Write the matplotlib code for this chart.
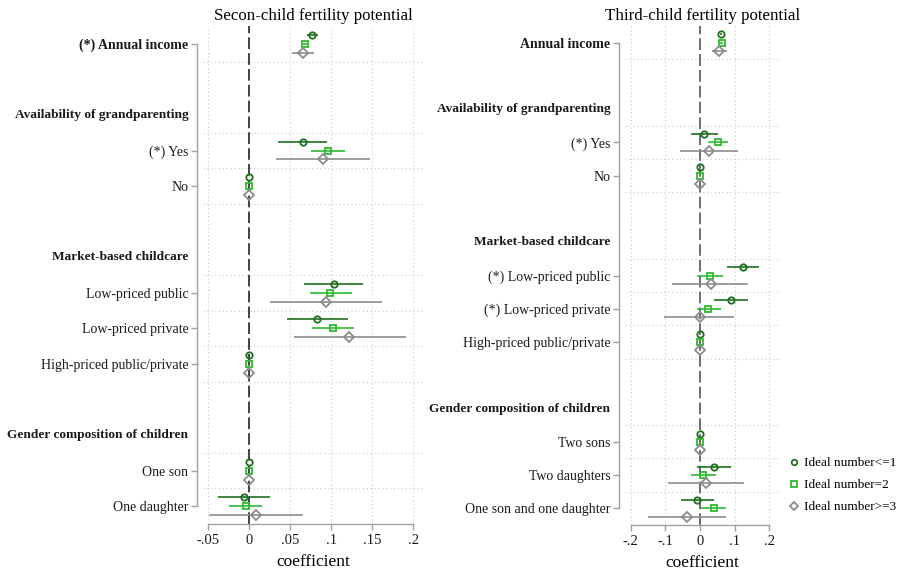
import matplotlib
matplotlib.use("Agg")
import matplotlib.pyplot as plt
from matplotlib.lines import Line2D
import matplotlib.transforms as mtransforms

plt.rcParams['font.family'] = ['Liberation Serif', 'DejaVu Serif']

# ---------------- data ----------------
series_names = ["Ideal number<=1", "Ideal number=2", "Ideal number>=3"]

# Left panel: second-child fertility potential
left_title = "Secon-child fertility potential"
left_rows = ["(*) Annual income", "", "Availability of grandparenting", "(*) Yes", "No", "",
             "Market-based childcare", "Low-priced public", "Low-priced private",
             "High-priced public/private", "", "Gender composition of children",
             "One son", "One daughter"]
left_headings = ["Availability of grandparenting", "Market-based childcare",
                 "Gender composition of children"]
left_bold = ["(*) Annual income"]
left_coef_labels = ["(*) Annual income", "(*) Yes", "No", "Low-priced public",
                    "Low-priced private", "High-priced public/private", "One son", "One daughter"]
left_le1 = [0.077, 0.065, 0, 0.103, 0.083, 0, 0, -0.006]
left_le1_lo = [0.070, 0.035, 0, 0.067, 0.046, 0, 0, -0.038]
left_le1_hi = [0.084, 0.095, 0, 0.139, 0.120, 0, 0, 0.025]
left_eq2 = [0.068, 0.096, 0, 0.099, 0.102, 0, 0, -0.004]
left_eq2_lo = [0.066, 0.075, 0, 0.074, 0.077, 0, 0, -0.025]
left_eq2_hi = [0.070, 0.117, 0, 0.125, 0.128, 0, 0, 0.016]
left_ge3 = [0.065, 0.090, 0, 0.0935, 0.122, 0, 0, 0.008]
left_ge3_lo = [0.052, 0.033, 0, 0.025, 0.054, 0, 0, -0.049]
left_ge3_hi = [0.079, 0.147, 0, 0.162, 0.191, 0, 0, 0.065]
left_xticks = [-0.05, 0, 0.05, 0.1, 0.15, 0.2]
left_xticklabels = ["-.05", "0", ".05", ".1", ".15", ".2"]

# Right panel: third-child fertility potential
right_title = "Third-child fertility potential"
right_rows = ["Annual income", "", "Availability of grandparenting", "(*) Yes", "No", "",
              "Market-based childcare", "(*) Low-priced public", "(*) Low-priced private",
              "High-priced public/private", "", "Gender composition of children",
              "Two sons", "Two daughters", "One son and one daughter"]
right_headings = ["Availability of grandparenting", "Market-based childcare",
                  "Gender composition of children"]
right_bold = ["Annual income"]
right_coef_labels = ["Annual income", "(*) Yes", "No", "(*) Low-priced public",
                     "(*) Low-priced private", "High-priced public/private", "Two sons",
                     "Two daughters", "One son and one daughter"]
right_le1 = [0.061, 0.0125, 0, 0.123, 0.090, 0, 0, 0.040, -0.008]
right_le1_lo = [0.057, -0.027, 0, 0.079, 0.041, 0, 0, -0.008, -0.056]
right_le1_hi = [0.065, 0.053, 0, 0.171, 0.138, 0, 0, 0.090, 0.041]
right_eq2 = [0.063, 0.053, 0, 0.029, 0.024, 0, 0, 0.010, 0.039]
right_eq2_lo = [0.059, 0.024, 0, -0.008, -0.010, 0, 0, -0.027, 0.003]
right_eq2_hi = [0.067, 0.082, 0, 0.066, 0.060, 0, 0, 0.045, 0.074]
right_ge3 = [0.056, 0.026, 0, 0.031, 0.0, 0, 0, 0.017, -0.038]
right_ge3_lo = [0.034, -0.058, 0, -0.080, -0.103, 0, 0, -0.092, -0.151]
right_ge3_hi = [0.077, 0.111, 0, 0.140, 0.099, 0, 0, 0.128, 0.075]
right_xticks = [-0.2, -0.1, 0, 0.1, 0.2]
right_xticklabels = ["-.2", "-.1", "0", ".1", ".2"]

# ---------------- style ----------------
colors = ["#1f6f1f", "#2fba2f", "#8c8c8c"]
markers = ["o", "s", "D"]
msizes = [4.6, 4.8, 4.6]
offsets = [-0.25, 0.0, 0.25]
axis_gray = "#a0a0a0"
grid_gray = "#c8c8c8"

fig = plt.figure(figsize=(9, 5.73), dpi=100)
W, H = 900, 573


def px_axes(l, r, t, b):
    return fig.add_axes([l / W, 1 - b / H, (r - l) / W, (b - t) / H])


def draw_panel(ax, title, rows, headings, bold, coef_labels, data, xticks, xticklabels,
               xlim, zero_color):
    n = len(rows)
    coef_pos = [rows.index(lab) for lab in coef_labels]

    # spines first (repositioning a spine resets ticks)
    for s in ['top', 'right']:
        ax.spines[s].set_visible(False)
    ax.spines['left'].set_position(('outward', 4))
    for s in ['left', 'bottom']:
        ax.spines[s].set_color(axis_gray)
        ax.spines[s].set_linewidth(1.0)

    ax.set_ylim(n - 0.5, -0.5)
    ax.set_xlim(*xlim)

    # horizontal dotted grid lines around coefficient rows
    glines = set()
    for p in coef_pos:
        glines.add(p - 0.5)
        glines.add(p + 0.5)
    for g in sorted(glines):
        if -0.5 < g < n - 0.5:
            ax.axhline(g, color=grid_gray, lw=0.8, ls=(0, (1, 2.5)), zorder=0)
    for xt in xticks:
        if xt != 0:
            ax.axvline(xt, color=grid_gray, lw=0.8, ls=(0, (1, 2.5)), zorder=0)
    ax.axvline(0, color=zero_color, lw=1.2, ls=(0, (7, 2.5)), zorder=1)

    for k, (est, lo, hi) in enumerate(data):
        ys = [p + offsets[k] for p in coef_pos]
        xerr = [[e - l for e, l in zip(est, lo)], [h - e for e, h in zip(est, hi)]]
        ax.errorbar(est, ys, xerr=xerr, fmt=markers[k], color=colors[k], ecolor=colors[k],
                    elinewidth=1.2, capsize=0, ms=msizes[k], mfc='none', mec=colors[k],
                    mew=1.3, zorder=3 + k)

    ax.tick_params(axis='both', colors=axis_gray, labelcolor='#1a1a1a',
                   length=4.5, width=1.0)
    ax.tick_params(axis='x', pad=3, labelsize=10.5)
    ax.tick_params(axis='y', pad=2, labelsize=10)
    ax.set_xticks(xticks)
    ax.set_xticklabels(xticklabels)
    ax.set_yticks(coef_pos)
    ylabs = ax.set_yticklabels(coef_labels)
    for lab, txt in zip(ylabs, coef_labels):
        if txt in bold:
            lab.set_fontweight('bold')

    ax.spines['left'].set_bounds(coef_pos[0], coef_pos[-1])
    ax.spines['bottom'].set_bounds(xticks[0], xticks[-1])

    trans = mtransforms.offset_copy(ax.get_yaxis_transform(), fig=fig, x=-10.5, y=0,
                                    units='points')
    for h in headings:
        ax.text(0, rows.index(h), h, transform=trans, ha='right', va='center',
                fontsize=9.6, fontweight='bold', color='#1a1a1a')

    ax.set_title(title, fontsize=12.2, pad=4)
    ax.set_xlabel("coefficient", fontsize=12.5, labelpad=5)
    ax.patch.set_alpha(0)


axL = px_axes(203, 423, 26, 524)
draw_panel(axL, left_title, left_rows, left_headings, left_bold, left_coef_labels,
           [(left_le1, left_le1_lo, left_le1_hi), (left_eq2, left_eq2_lo, left_eq2_hi),
            (left_ge3, left_ge3_lo, left_ge3_hi)],
           left_xticks, left_xticklabels, (-0.0565, 0.212), "#222222")

axR = px_axes(625, 780, 26, 525)
draw_panel(axR, right_title, right_rows, right_headings, right_bold, right_coef_labels,
           [(right_le1, right_le1_lo, right_le1_hi), (right_eq2, right_eq2_lo, right_eq2_hi),
            (right_ge3, right_ge3_lo, right_ge3_hi)],
           right_xticks, right_xticklabels, (-0.2168, 0.2312), "#555555")

handles = [Line2D([], [], ls='none', marker=markers[k], color=colors[k], mfc='none',
                  mec=colors[k], ms=msizes[k] - 0.6, mew=1.3) for k in range(3)]
fig.legend(handles, series_names, loc='upper left', bbox_to_anchor=(789 / W, 1 - 457 / H),
           frameon=False, fontsize=9.5, handlelength=0.7, handletextpad=0.4,
           labelspacing=0.75, borderaxespad=0, borderpad=0)

fig.savefig("out.png", dpi=100)
